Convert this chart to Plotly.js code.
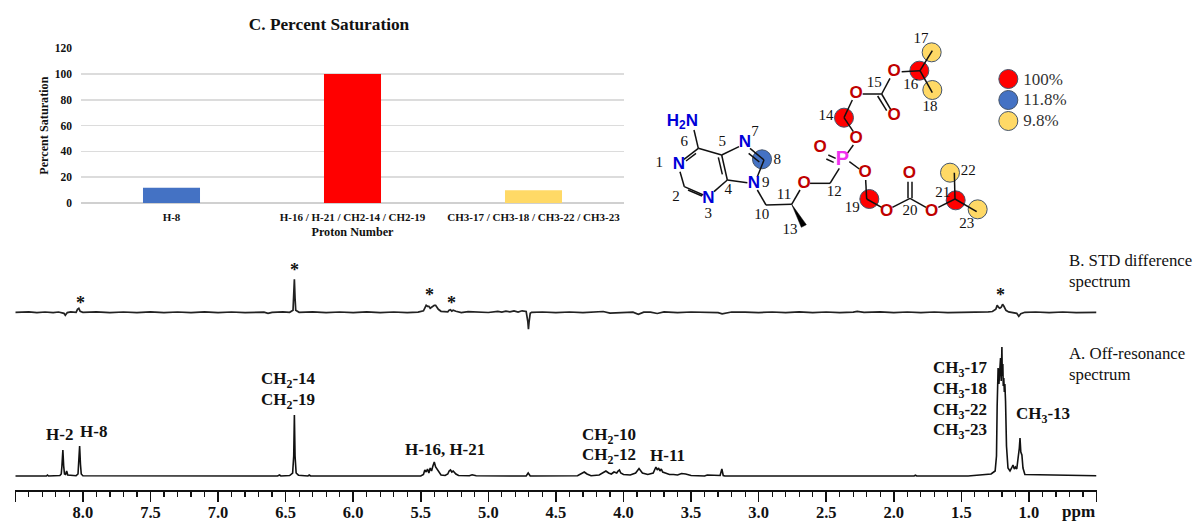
<!DOCTYPE html>
<html><head><meta charset="utf-8">
<script src="https://cdn.plot.ly/plotly-3.0.1.min.js"></script>
<style>html,body{margin:0;padding:0;background:#fff;overflow:hidden}</style>
</head><body><div id="chart" style="width:1195px;height:522px"></div>
<script>
// ---------- C. Percent saturation ----------
const protonGroups = ['H-8', 'H-16 / H-21 / CH2-14 / CH2-19', 'CH3-17 / CH3-18 / CH3-22 / CH3-23'];
const saturation = [11.8, 100, 9.8];
const barColors = ['#4472c4', '#ff0000', '#ffd966'];

// ---------- A. Off-resonance spectrum (ppm, intensity) ----------
const offPpm = [8.5,8.27,8.262,8.254,8.17,8.16,8.155,8.148,8.142,8.136,8.128,8.12,8.112,8.05,8.036,8.031,8.024,8.018,8.012,8.0,
 6.56,6.545,6.535,6.47,6.448,6.44,6.435,6.43,6.422,6.405,6.335,6.325,6.315,
 5.5,5.48,5.47,5.46,5.45,5.44,5.43,5.42,5.41,5.4,5.39,5.38,5.37,5.36,5.35,5.32,5.3,5.29,5.28,5.27,5.26,5.24,5.22,5.14,5.12,5.09,
 4.72,4.705,4.69,4.34,4.31,4.29,4.27,4.24,
 4.18,4.15,4.13,4.11,4.09,4.07,4.05,4.04,4.03,4.02,4.0,3.95,3.91,3.885,3.86,3.82,3.78,3.76,3.75,3.74,3.73,3.72,3.71,3.69,3.66,3.63,3.6,3.57,3.54,3.5,
 3.4,3.38,3.35,3.31,3.285,3.272,3.262,3.25,
 1.85,1.84,1.83,1.45,1.4,1.33,1.28,1.25,1.24,1.235,1.228,1.222,1.216,1.21,1.205,1.2,1.197,1.193,1.19,1.186,1.182,1.178,1.173,1.166,1.155,1.14,1.128,1.118,1.108,1.1,1.09,1.082,1.077,1.071,1.066,1.06,1.052,1.044,1.03,0.5];
const offInt = [0,0,1,0,0.5,2,10,26,10,2,1.5,5,1,0.3,2,12,30,12,2,0.3,
 0,1,0,0.5,3,20,61,20,3,0.8,0,1,0,
 0,1.5,6,4,7,3,8,5,10,14,9,7,6,3,1,0.5,2,5,6,4,5,2,0.5,0.3,1.2,0.2,
 0,3,0,0.2,2,4,2,0.3,
 1,3,5,3,2,4,3,5,6,3,1.5,1,3,7.5,3,1.5,3,9,6,8,5,7,4,3,1.5,1.5,1,2.5,2,0.5,
 0,1,1,0.3,0.5,7,0.5,0,
 0,0.8,0,0,0.5,1,2,5,20,70,108,92,112,118,95,129,100,112,90,98,84,92,75,30,8,5,8,11,7,9,7,14,20,28,38,24,21,8,1.5,0.3,0];

// ---------- B. STD difference spectrum (ppm, intensity) ----------
const stdPpm = [8.5,8.4,8.34,8.28,8.22,8.18,8.14,8.13,8.115,8.09,8.05,8.04,8.03,8.02,8.0,7.9,7.8,7.7,7.6,7.5,7.4,7.3,7.2,7.1,7.0,6.9,6.8,6.7,6.66,6.63,6.6,6.52,6.47,6.445,6.44,6.435,6.43,6.425,6.4,6.3,6.2,6.1,6,5.9,5.8,5.7,5.6,5.52,
 5.48,5.47,5.46,5.45,5.44,5.43,5.42,5.41,5.4,5.39,5.38,5.37,5.35,5.32,5.3,5.29,5.28,5.27,5.26,5.24,5.2,5.15,5.1,5.0,4.93,4.9,4.87,4.84,4.81,4.78,4.75,4.72,4.708,4.703,4.698,4.69,4.68,4.6,4.5,4.4,4.3,
 4.2,4.15,4.1,4.0,3.93,3.89,3.85,3.8,3.75,3.7,3.6,3.5,3.4,3.3,3.27,3.2,3.1,3,2.9,2.8,2.7,2.6,2.5,2.4,2.3,2.27,2.22,2.1,2,1.9,1.8,1.7,1.6,1.5,1.4,1.3,1.27,
 1.245,1.235,1.225,1.215,1.205,1.195,1.185,1.17,1.15,1.12,1.09,1.075,1.06,1.03,0.95,0.85,0.75,0.65,0.5];
const stdInt = [0,0.4,-0.4,0.3,-0.3,0.3,-1,-3,-0.3,0.4,0,3,4,1,0,0.5,-0.4,0.3,-0.3,0.4,-0.4,0.3,-0.3,0.4,-0.3,0.3,-0.4,0.3,0.2,-1,0,0.4,0,2,14,33,14,2,0,0.4,-0.3,0.3,-0.4,0.4,-0.3,0.3,-0.4,0.2,
 1.5,5,7,6,6,4,5,6,7,7,5,3,1,0.2,0.4,2,2.5,1.2,2,1,-0.3,0.6,0.2,-0.2,1,0.2,1.2,0.4,1.4,0.3,1.5,0.8,-9,-17,-9,-1,0,0.3,-0.3,0.3,-0.3,
 0.2,0.8,-0.8,-0.2,0.2,-2,0.2,0.2,-1.2,0.4,-0.3,0.3,0.2,-0.3,-1.5,0.3,0.2,-0.3,0.3,-0.3,0.4,-0.3,0.3,-0.4,0.2,1,0,0.4,-0.3,0.3,-0.3,0.3,-0.3,0.3,0.2,0.4,0.8,
 3,7,5,4,5,8,6,2,0.4,0,-1,-4,-1.5,0,0.3,-0.3,0.3,-0.3,0];

const ppmTickVals = [8.5,8,7.5,7,6.5,6,5.5,5,4.5,4,3.5,3,2.5,2,1.5,1,0.5];
const ppmTickText = ['','8.0','7.5','7.0','6.5','6.0','5.5','5.0','4.5','4.0','3.5','3.0','2.5','2.0','1.5','1.0',''];

// ---------- Molecule (drawing units of the structure panel) ----------
const bondX = [120,133,null,133,190,null,144,186,null,222,262,null,262,245,null,247,235,null,245,175,null,175,132,null,168,138,null,175,162,null,245,297,null,330,372,null,326,358,null,372,352,null,322,262,null,352,378,null,378,455,null,455,480,null,510,570,null,570,598,null,565,587,null,559,581,null,622,640,null,628,658,null,640,612,null,612,637,null,668,725,null,725,752,null,713,740,null,725,750,null,785,840,null,840,877,null,840,877,null,677,680,null,680,725,null,757,810,null,804,804,null,816,816,null,810,858,null,895,945,null,945,943,null,945,1010];
const bondY = [455,500,null,500,525,null,510,528,null,515,480,null,480,405,null,463,412,null,405,385,null,385,418,null,400,423,null,385,330,null,405,380,null,385,420,null,400,426,null,420,470,null,488,480,null,510,555,null,555,553,null,553,510,null,490,490,null,490,445,null,405,415,null,417,427,null,400,375,null,425,447,null,335,293,null,293,240,null,222,222,null,222,268,null,228,272,null,222,175,null,155,152,null,152,92,null,152,218,null,480,537,null,537,562,null,562,535,null,535,485,null,535,485,null,535,562,null,562,537,null,537,458,null,537,575];
const wedgeX = [455,484,499,455];
const wedgeY = [553,622,614,553];

const circleX = [612,838,688,947,366,875,877,930,1013,1105,1105,1105];
const circleY = [293,152,537,541,418,97,210,458,568,177,240,303];
const circleColors = ['#ff0000','#ff0000','#ff0000','#ff0000','#4472c4','#ffd966','#ffd966','#ffd966','#ffd966','#ff0000','#4472c4','#ffd966'];

const atomLabels = ['N','N','N','N','H<sub>2</sub>N','O','O','O','O','O','O','O','O','O','O'];
const atomX = [117,205,315,342,127,492,540,648,648,762,762,675,740,808,875];
const atomY = [433,535,367,490,305,490,382,355,222,288,155,458,575,462,575];
const atomColors = ['#0000d8','#0000d8','#0000d8','#0000d8','#0000d8','#c00000','#c00000','#c00000','#c00000','#c00000','#c00000','#c00000','#c00000','#c00000','#c00000'];
const phosphorusLabel = ['P'];
const phosphorusX = [607];
const phosphorusY = [420];

const numberLabels = ['1','2','3','4','5','6','7','8','9','10','11','12','13','14','15','16','17','18','19','20','21','22','23'];
const numberX = [58,108,205,265,247,133,345,412,377,365,432,583,450,558,703,812,843,870,637,810,908,985,980];
const numberY = [430,533,582,510,367,368,338,420,490,587,527,517,632,290,190,197,58,262,565,575,520,455,612];

const legendLabels = ['100%','11.8%','9.8%'];
const legendX = [1150,1150,1150];
const legendY = [182,243,305];

// ---------- Text placed on the page ----------
const serif = '"Liberation Serif","Times New Roman",serif';
const sans = '"Liberation Sans",Arial,sans-serif';
const ink = '#111111';

const boldLabels = [
 ['H-2',59,434],['H-8',93,431],
 ['CH<sub>2</sub>-14',288,380],['CH<sub>2</sub>-19',288,401],
 ['H-16, H-21',445,449],
 ['CH<sub>2</sub>-10',609,436],['CH<sub>2</sub>-12',609,456],['H-11',667,455],
 ['CH<sub>3</sub>-17',960,369],['CH<sub>3</sub>-18',960,390],['CH<sub>3</sub>-22',960,411],['CH<sub>3</sub>-23',960,431],
 ['CH<sub>3</sub>-13',1043,415],['ppm',1078,511]
];
const starLabels = [['*',80,303],['*',294,270],['*',429,295],['*',451,303],['*',1000,295]];
const plainLabels = [['B. STD difference',1067,260],['spectrum',1067,281],['A. Off-resonance',1067,353],['spectrum',1067,374]];

const pageNote = (t, x, y, size, bold, anchor) => ({
  text: bold ? '<b>'+t+'</b>' : t, xref:'paper', yref:'paper', x:x/1195, y:1-y/522,
  xanchor:anchor, yanchor:'middle', showarrow:false, font:{family:serif,size:size,color:ink}
});
const annotations = []
  .concat(boldLabels.map(l => pageNote(l[0], l[1], l[2], 17, true, 'center')))
  .concat(starLabels.map(l => pageNote(l[0], l[1], l[2], 18, true, 'center')))
  .concat(plainLabels.map(l => pageNote(l[0], l[1], l[2], 16.8, false, 'left')));

const traces = [
  {type:'bar', x:protonGroups, y:saturation, marker:{color:barColors}, xaxis:'x', yaxis:'y', width:0.315, hoverinfo:'skip'},
  {type:'scatter', mode:'lines', x:offPpm, y:offInt, xaxis:'x2', yaxis:'y2', line:{color:'#111',width:1.6}, hoverinfo:'skip'},
  {type:'scatter', mode:'lines', x:stdPpm, y:stdInt, xaxis:'x2', yaxis:'y3', line:{color:'#222',width:1.7}, hoverinfo:'skip'},
  {type:'scatter', mode:'markers', x:circleX, y:circleY, xaxis:'x3', yaxis:'y4',
    marker:{size:19,color:circleColors,line:{color:'#44546a',width:1}}, hoverinfo:'skip', cliponaxis:false},
  {type:'scatter', mode:'lines', x:bondX, y:bondY, xaxis:'x3', yaxis:'y4', line:{color:'#111',width:1.5}, hoverinfo:'skip', connectgaps:false},
  {type:'scatter', mode:'lines', x:wedgeX, y:wedgeY, xaxis:'x3', yaxis:'y4', fill:'toself', fillcolor:'#000', line:{color:'#000',width:0.5}, hoverinfo:'skip'},
  {type:'scatter', mode:'text', x:atomX, y:atomY, text:atomLabels, xaxis:'x3', yaxis:'y4', textposition:'middle center',
    textfont:{family:sans,size:17,color:atomColors,weight:'bold'}, hoverinfo:'skip', cliponaxis:false},
  {type:'scatter', mode:'text', x:phosphorusX, y:phosphorusY, text:phosphorusLabel, xaxis:'x3', yaxis:'y4', textposition:'middle center',
    textfont:{family:sans,size:20,color:'#f030f0',weight:'bold'}, hoverinfo:'skip', cliponaxis:false},
  {type:'scatter', mode:'text', x:numberX, y:numberY, text:numberLabels, xaxis:'x3', yaxis:'y4', textposition:'middle center',
    textfont:{family:serif,size:15,color:ink}, hoverinfo:'skip', cliponaxis:false},
  {type:'scatter', mode:'text', x:legendX, y:legendY, text:legendLabels, xaxis:'x3', yaxis:'y4', textposition:'middle right',
    textfont:{family:serif,size:17,color:'#333'}, hoverinfo:'skip', cliponaxis:false}
];

const hidden = {visible:false, fixedrange:true};
const layout = {
  width:1195, height:522, margin:{l:0,r:0,t:0,b:0}, autosize:false, showlegend:false,
  paper_bgcolor:'#fff', plot_bgcolor:'rgba(0,0,0,0)',
  title:{text:'<b>C. Percent Saturation</b>', x:329/1195, y:1-24/522, xanchor:'center', yanchor:'middle',
    font:{family:serif,size:17.3,color:ink}},
  xaxis:{domain:[81/1195,624/1195], anchor:'y', type:'category', showline:false, ticks:'', showgrid:false, zeroline:false,
    ticklabelstandoff:6, tickfont:{family:serif,size:11,color:ink,weight:'bold'},
    title:{text:'<b>Proton Number</b>', standoff:5, font:{family:serif,size:12.2,color:ink}}},
  yaxis:{domain:[(522-203)/522,(522-48.3)/522], anchor:'x', range:[0,120], dtick:20, showline:false, ticks:'', gridcolor:'#dcdcdc', gridwidth:1.6,
    zeroline:true, zerolinecolor:'#d0d0d0', zerolinewidth:1.6, ticklabelstandoff:8, tickfont:{family:serif,size:11.5,color:ink,weight:'bold'},
    title:{text:'<b>Percent Saturation</b>', standoff:3, font:{family:serif,size:12.2,color:ink}}},
  xaxis2:{domain:[15.3/1195,1096.5/1195], anchor:'y2', range:[8.5,0.5], side:'bottom', showline:true, linecolor:'#111', linewidth:1.5,
    showgrid:false, zeroline:false, tickmode:'array', tickvals:ppmTickVals, ticktext:ppmTickText, ticks:'outside', ticklen:10, tickwidth:1.5, tickcolor:'#111',
    minor:{dtick:0.1, ticks:'outside', ticklen:5, tickwidth:1.2, tickcolor:'#111', showgrid:false},
    ticklabelstandoff:-3, tickfont:{family:serif,size:16.5,color:ink,weight:'bold'}, tickangle:0},
  yaxis2:Object.assign({domain:[(522-490)/522,(522-340)/522], anchor:'x2', range:[-14,136]}, hidden),
  yaxis3:Object.assign({domain:[(522-340)/522,(522-260)/522], anchor:'x2', range:[-27.7,52.3]}, hidden),
  xaxis3:Object.assign({domain:[640/1195,1090/1195], anchor:'y4', range:[0,1350]}, hidden),
  yaxis4:Object.assign({domain:[(522-250)/522,(522-20)/522], anchor:'x3', range:[690,0]}, hidden),
  annotations:annotations
};
Plotly.newPlot('chart', traces, layout, {staticPlot:true, displayModeBar:false});
</script></body></html>
